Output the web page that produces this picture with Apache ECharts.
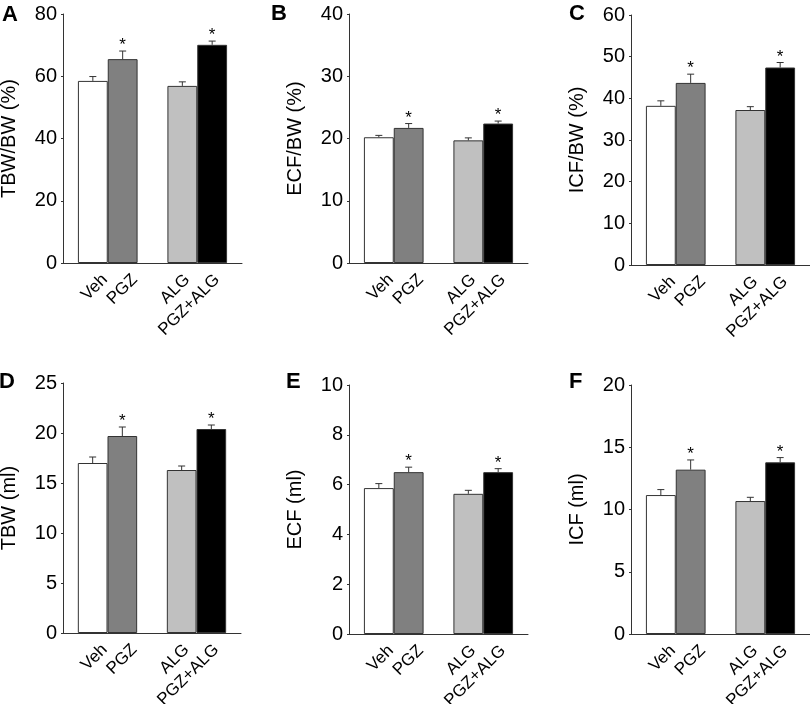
<!DOCTYPE html>
<html style="height: 100%">
<head>
<meta charset="utf-8">
<script src="https://cdn.jsdelivr.net/npm/echarts@6/dist/echarts.min.js"></script>
</head>
<body style="height: 100%; margin: 0; background: #fff">
<div id="container" style="width: 810px; height: 704px"></div>
<script type="text/javascript">
// group names, with empty slots so that the two pairs sit apart on the axis
var groups = ['Veh', 'PGZ', 'ALG', 'PGZ+ALG'];
var axisSlots = ['', 'Veh', 'PGZ', '', 'ALG', 'PGZ+ALG', ''];
var signif = [false, true, false, true];

// means and upper error (SEM) per group
var tbwPct = [58.5, 65.5, 56.9, 70.1];
var tbwPctErr = [1.4, 2.6, 1.3, 1.2];
var ecfPct = [20.2, 21.7, 19.7, 22.4];
var ecfPctErr = [0.3, 0.7, 0.4, 0.4];
var icfPct = [38.2, 43.7, 37.2, 47.4];
var icfPctErr = [1.2, 2.1, 0.8, 1.2];
var tbwMl = [17.0, 19.7, 16.3, 20.4];
var tbwMlErr = [0.6, 0.9, 0.4, 0.4];
var ecfMl = [5.86, 6.5, 5.63, 6.5];
var ecfMlErr = [0.18, 0.2, 0.14, 0.14];
var icfMl = [11.16, 13.2, 10.68, 13.79];
var icfMlErr = [0.44, 0.78, 0.3, 0.38];

var barColors = ['#ffffff', '#808080', '#c0c0c0', '#000000'];
var font = 'Liberation Sans, Arial, sans-serif';
var ink = '#333';

var panels = [
    {letter: 'A', name: 'TBW/BW (%)', max: 80, step: 20, mean: tbwPct, err: tbwPctErr,
     grid: {left: 63, top: 14, width: 179, height: 249}, lx: 2, ly: 4},
    {letter: 'B', name: 'ECF/BW (%)', max: 40, step: 10, mean: ecfPct, err: ecfPctErr,
     grid: {left: 349, top: 14, width: 179, height: 249}, lx: 271, ly: 3},
    {letter: 'C', name: 'ICF/BW (%)', max: 60, step: 10, mean: icfPct, err: icfPctErr,
     grid: {left: 631, top: 15, width: 179, height: 250}, lx: 569, ly: 3},
    {letter: 'D', name: 'TBW (ml)', max: 25, step: 5, mean: tbwMl, err: tbwMlErr,
     grid: {left: 63, top: 383, width: 178, height: 250}, lx: -1, ly: 371},
    {letter: 'E', name: 'ECF (ml)', max: 10, step: 2, mean: ecfMl, err: ecfMlErr,
     grid: {left: 349, top: 385, width: 179, height: 249}, lx: 286, ly: 371},
    {letter: 'F', name: 'ICF (ml)', max: 20, step: 5, mean: icfMl, err: icfMlErr,
     grid: {left: 631, top: 385, width: 179, height: 249}, lx: 569, ly: 371}
];

function slotOf(i) {
    return axisSlots.indexOf(groups[i]);
}

function renderErr(params, api) {
    var x = api.value(0);
    var mean = api.value(1);
    var e = api.value(2);
    var base = api.coord([x, mean]);
    var top = api.coord([x, mean + e]);
    var kids = [
        {type: 'line', shape: {x1: base[0], y1: base[1], x2: top[0], y2: top[1]},
         style: {stroke: ink, lineWidth: 1}},
        {type: 'line', shape: {x1: top[0] - 3.5, y1: top[1], x2: top[0] + 3.5, y2: top[1]},
         style: {stroke: ink, lineWidth: 1}}
    ];
    if (api.value(3)) {
        kids.push({type: 'text', x: top[0], y: top[1] + 3,
            style: {text: '*', fontSize: 17, fontFamily: font, fill: '#000',
                    align: 'center', verticalAlign: 'bottom'}});
    }
    return {type: 'group', children: kids};
}

var option = {
    animation: false,
    backgroundColor: '#fff',
    title: [], grid: [], xAxis: [], yAxis: [], series: []
};

panels.forEach(function (p, k) {
    option.title.push({text: p.letter, left: p.lx, top: p.ly, padding: 0,
        textStyle: {fontFamily: font, fontSize: 22, fontWeight: 'bold', color: '#000'}});
    var g = p.grid;
    option.grid.push({left: g.left, top: g.top, width: g.width, height: g.height,
        containLabel: false, outerBoundsMode: 'none'});
    option.xAxis.push({
        type: 'category', gridIndex: k, data: axisSlots, boundaryGap: false,
        axisLine: {lineStyle: {color: ink, width: 1}},
        axisTick: {show: false},
        splitLine: {show: false},
        axisLabel: {
            interval: 0, rotate: 45, margin: 2, color: '#000',
            fontFamily: font, fontSize: 17,
            formatter: function (v) {
                if (!v) return '';
                return (v === 'Veh' || v === 'PGZ') ? '{a|' + v + '}' : '{b|' + v + '}';
            },
            rich: {
                a: {fontFamily: font, fontSize: 17, color: '#000', padding: [34, 0, 0, 0]},
                b: {fontFamily: font, fontSize: 17, color: '#000', padding: [24, 5, 0, 0]}
            }
        }
    });
    option.yAxis.push({
        type: 'value', gridIndex: k, min: 0, max: p.max, interval: p.step,
        name: p.name, nameLocation: 'middle', nameGap: 44,
        nameTextStyle: {fontFamily: font, fontSize: 20, color: '#000'},
        axisLine: {show: true, lineStyle: {color: ink, width: 1}},
        axisTick: {show: true, length: 2, lineStyle: {color: ink}},
        axisLabel: {margin: 6, color: '#000', fontFamily: font, fontSize: 20},
        splitLine: {show: false}
    });
    var barData = axisSlots.map(function () { return '-'; });
    var errData = [];
    groups.forEach(function (name, i) {
        var s = slotOf(i);
        barData[s] = {value: p.mean[i], itemStyle: {color: barColors[i]}};
        errData.push([s, p.mean[i], p.err[i], signif[i] ? 1 : 0]);
    });
    option.series.push({
        type: 'bar', xAxisIndex: k, yAxisIndex: k, data: barData,
        barWidth: '100%', itemStyle: {borderColor: ink, borderWidth: 1}
    });
    option.series.push({
        type: 'custom', xAxisIndex: k, yAxisIndex: k, data: errData,
        encode: {x: 0, y: 1}, renderItem: renderErr, z: 3
    });
});

var myChart = echarts.init(document.getElementById('container'));
myChart.setOption(option, true);
</script>
</body>
</html>
